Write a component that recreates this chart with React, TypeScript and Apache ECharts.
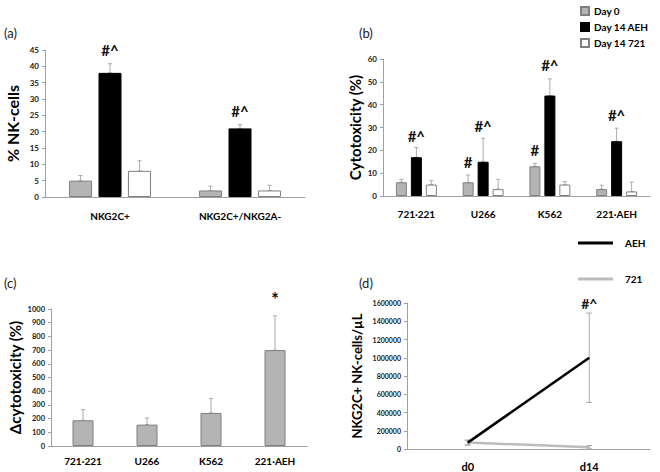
import React, { useEffect, useRef } from "react";
import * as echarts from "echarts";

// ---------- Panel (a) ----------
const aCategories = ["NKG2C+", "NKG2C+/NKG2A-"];
const aDay0 = [5, 2];
const aDay0Err = [1.6, 1.3];
const aAEH = [38, 21];
const aAEHErr = [2.8, 1.2];
const a721 = [8, 2];
const a721Err = [3.1, 1.6];
const aNotes: [number, number, number, string][] = [
  [0, 1, 45, "#^"],
  [1, 1, 26.3, "#^"],
];

// ---------- Panel (b) ----------
const bCategories = ["721·221", "U266", "K562", "221·AEH"];
const bDay0 = [6, 6, 13, 3];
const bDay0Err = [1.3, 3.2, 1.3, 1.7];
const bAEH = [17, 15, 44, 24];
const bAEHErr = [4.2, 10.3, 7.3, 5.7];
const b721 = [5, 3, 5, 2];
const b721Err = [1.7, 4.3, 1.3, 4.1];
const bNotes: [number, number, number, string][] = [
  [0, 1, 26.3, "#^"],
  [1, 1, 30.7, "#^"],
  [2, 1, 57.4, "#^"],
  [3, 1, 35.5, "#^"],
  [1, 0, 14.9, "#"],
  [2, 0, 20.1, "#"],
];

// ---------- Panel (c) ----------
const cCategories = ["721·221", "U266", "K562", "221·AEH"];
const cDelta = [188, 156, 241, 700];
const cDeltaErr = [78, 49, 105, 250];
const cNotes: [number, number, number, string][] = [[3, 1, 1075, "*"]];

// ---------- Panel (d) ----------
const dCategories = ["d0", "d14"];
const dAEH = [70000, 1000000];
const dAEHErr = [28000, 490000];
const d721 = [70000, 20000];
const d721Err = [25000, 18000];
const dNotes: [number, number, number, string][] = [[1, 1, 1600000, "#^"]];

const FONT = "Lato, 'Liberation Sans', sans-serif";
const AXIS_GRAY = "#a0a0a0";
const ERR_GRAY = "#ababab";
const DAY0_FILL = "#b4b4b4";
const BORDER_GRAY = "#7f7f7f";

function errData(vals: number[], errs: number[], slot: number, both: boolean) {
  return vals.map((v, i) => [i, both ? v - errs[i] : v, v + errs[i], slot]);
}

function errRender(step: number, cap: number) {
  return (params: any, api: any) => {
    const cat = api.value(0);
    const lo = api.value(1);
    const hi = api.value(2);
    const slot = api.value(3);
    const pHi = api.coord([cat, hi]);
    const pLo = api.coord([cat, lo]);
    const x = pHi[0] + (slot - 1) * step;
    const style = { stroke: ERR_GRAY, lineWidth: 1 };
    return {
      type: "group",
      children: [
        { type: "line", shape: { x1: x, y1: pLo[1], x2: x, y2: pHi[1] }, style },
        { type: "line", shape: { x1: x - cap, y1: pHi[1], x2: x + cap, y2: pHi[1] }, style },
        { type: "line", shape: { x1: x - cap, y1: pLo[1], x2: x + cap, y2: pLo[1] }, style },
      ],
    };
  };
}

function noteRender(notes: [number, number, number, string][], step: number, size: number) {
  return (params: any, api: any) => {
    const n = notes[params.dataIndex];
    const p = api.coord([api.value(0), api.value(2)]);
    return {
      type: "text",
      x: p[0] + (api.value(1) - 1) * step,
      y: p[1],
      style: {
        text: n[3],
        fontFamily: FONT,
        fontWeight: "bold",
        fontSize: size,
        fill: "#111",
        align: "center",
        verticalAlign: "middle",
      },
    };
  };
}

const noteData = (notes: [number, number, number, string][]) => notes.map((n) => [n[0], n[1], n[2]]);

function yAxis(grid: number, max: number, interval: number, name: string, nameGap: number, nameSize: number, labelSize: number) {
  return {
    type: "value",
    gridIndex: grid,
    min: 0,
    max,
    interval,
    name,
    nameLocation: "middle",
    nameGap,
    nameTextStyle: { fontFamily: FONT, fontWeight: "bold", fontSize: nameSize, color: "#000" },
    axisLine: { show: true, lineStyle: { color: AXIS_GRAY } },
    axisTick: { show: true, length: 3, lineStyle: { color: AXIS_GRAY } },
    splitLine: { show: false },
    axisLabel: {
      fontFamily: FONT,
      fontWeight: "bold",
      fontSize: labelSize,
      color: "#1a1a1a",
      margin: 6,
      formatter: (v: number) => String(v),
    },
  };
}

function xAxis(grid: number, data: string[], margin: number, size: number) {
  return {
    type: "category",
    gridIndex: grid,
    data,
    axisLine: { show: true, lineStyle: { color: AXIS_GRAY } },
    axisTick: { show: false },
    axisLabel: { fontFamily: FONT, fontWeight: "bold", fontSize: size, color: "#000", margin, interval: 0 },
  };
}

function bars(name: string, x: number, data: number[], fill: string, border: string, width: number, gap: string) {
  return {
    type: "bar",
    name,
    xAxisIndex: x,
    yAxisIndex: x,
    data,
    barWidth: width,
    barGap: gap,
    itemStyle: { color: fill, borderColor: border, borderWidth: 1 },
  };
}

const A_STEP = 29.6;
const B_STEP = 15;

export default function App() {
  const ref = useRef<HTMLDivElement>(null);
  useEffect(() => {
    if (!ref.current) return;
    const chart = echarts.init(ref.current, null, { renderer: "svg" });
    const option: any = {
      animation: false,
      backgroundColor: "#fff",
      textStyle: { fontFamily: FONT },
      grid: [
        { left: 45, right: 355, top: 50, bottom: 275 },
        { left: 383, right: 10, top: 59, bottom: 276 },
        { left: 51, right: 353, top: 309, bottom: 26 },
        { left: 407, right: 10, top: 303, bottom: 22 },
      ],
      legend: [
        {
          data: ["Day 0", "Day 14 AEH", "Day 14 721"],
          orient: "vertical",
          left: 575,
          top: 1,
          itemWidth: 8,
          itemHeight: 8,
          itemGap: 6,
          icon: "rect",
          textStyle: { fontFamily: FONT, fontWeight: "bold", fontSize: 10, color: "#000" },
        },
        {
          data: ["AEH", "721"],
          orient: "vertical",
          left: 578,
          top: 230,
          itemWidth: 35,
          itemHeight: 3,
          itemGap: 26,
          icon: "rect",
          padding: [8, 5, 5, 0],
          textStyle: { fontFamily: FONT, fontWeight: "bold", fontSize: 10, color: "#000", padding: [0, 0, 0, 7] },
        },
      ],
      xAxis: [
        xAxis(0, aCategories, 14, 10),
        xAxis(1, bCategories, 13, 10),
        xAxis(2, cCategories, 10, 10),
        xAxis(3, dCategories, 12, 11),
      ],
      yAxis: [
        yAxis(0, 45, 5, "% NK-cells", 25, 16, 8),
        yAxis(1, 60, 10, "Cytotoxicity (%)", 21, 15, 8),
        yAxis(2, 1000, 100, "Δcytotoxicity (%)", 29, 15, 7.5),
        yAxis(3, 1600000, 200000, "NKG2C+ NK-cells/µL", 44, 13, 7),
      ],
      graphic: [
        { type: "text", left: 4, top: 26, style: { text: "(a)", fontFamily: FONT, fontSize: 13, fill: "#222" } },
        { type: "text", left: 359, top: 26, style: { text: "(b)", fontFamily: FONT, fontSize: 13, fill: "#222" } },
        { type: "text", left: 4, top: 276, style: { text: "(c)", fontFamily: FONT, fontSize: 13, fill: "#222" } },
        { type: "text", left: 359, top: 276, style: { text: "(d)", fontFamily: FONT, fontSize: 13, fill: "#222" } },
      ],
      series: [
        // (a)
        bars("Day 0", 0, aDay0, DAY0_FILL, BORDER_GRAY, 23, "28%"),
        bars("Day 14 AEH", 0, aAEH, "#000", "#000", 23, "28%"),
        bars("Day 14 721", 0, a721, "#fff", BORDER_GRAY, 23, "28%"),
        {
          type: "custom",
          xAxisIndex: 0,
          yAxisIndex: 0,
          renderItem: errRender(A_STEP, 2),
          data: [...errData(aDay0, aDay0Err, 0, false), ...errData(aAEH, aAEHErr, 1, false), ...errData(a721, a721Err, 2, false)],
          z: 1,
          silent: true,
        },
        {
          type: "custom",
          xAxisIndex: 0,
          yAxisIndex: 0,
          renderItem: noteRender(aNotes, A_STEP, 15),
          data: noteData(aNotes),
          clip: false,
          silent: true,
        },
        // (b)
        bars("Day 0", 1, bDay0, DAY0_FILL, BORDER_GRAY, 11, "36%"),
        bars("Day 14 AEH", 1, bAEH, "#000", "#000", 11, "36%"),
        bars("Day 14 721", 1, b721, "#fff", BORDER_GRAY, 11, "36%"),
        {
          type: "custom",
          xAxisIndex: 1,
          yAxisIndex: 1,
          renderItem: errRender(B_STEP, 2),
          data: [...errData(bDay0, bDay0Err, 0, false), ...errData(bAEH, bAEHErr, 1, false), ...errData(b721, b721Err, 2, false)],
          z: 1,
          silent: true,
        },
        {
          type: "custom",
          xAxisIndex: 1,
          yAxisIndex: 1,
          renderItem: noteRender(bNotes, B_STEP, 15),
          data: noteData(bNotes),
          clip: false,
          silent: true,
        },
        // (c)
        {
          type: "bar",
          name: "Δcytotoxicity",
          xAxisIndex: 2,
          yAxisIndex: 2,
          data: cDelta,
          barWidth: 21,
          itemStyle: { color: DAY0_FILL, borderColor: BORDER_GRAY, borderWidth: 1 },
        },
        {
          type: "custom",
          xAxisIndex: 2,
          yAxisIndex: 2,
          renderItem: errRender(0, 2),
          data: errData(cDelta, cDeltaErr, 1, false),
          z: 1,
          silent: true,
        },
        {
          type: "custom",
          xAxisIndex: 2,
          yAxisIndex: 2,
          renderItem: noteRender(cNotes, 0, 19),
          data: noteData(cNotes),
          clip: false,
          silent: true,
        },
        // (d)
        {
          type: "custom",
          xAxisIndex: 3,
          yAxisIndex: 3,
          renderItem: errRender(0, 3),
          data: [...errData(dAEH, dAEHErr, 1, true), ...errData(d721, d721Err, 1, true)],
          z: 1,
          silent: true,
        },
        {
          type: "line",
          name: "AEH",
          xAxisIndex: 3,
          yAxisIndex: 3,
          data: dAEH,
          showSymbol: false,
          symbol: "none",
          lineStyle: { color: "#000", width: 2.5 },
          itemStyle: { color: "#000" },
          z: 3,
        },
        {
          type: "line",
          name: "721",
          xAxisIndex: 3,
          yAxisIndex: 3,
          data: d721,
          showSymbol: false,
          symbol: "none",
          lineStyle: { color: "#bdbdbd", width: 2.5 },
          itemStyle: { color: "#bdbdbd" },
          z: 2,
        },
        {
          type: "custom",
          xAxisIndex: 3,
          yAxisIndex: 3,
          renderItem: noteRender(dNotes, 0, 14),
          data: noteData(dNotes),
          clip: false,
          silent: true,
        },
      ],
    };
    chart.setOption(option);
    return () => chart.dispose();
  }, []);
  return (
    <div
      ref={ref}
      style={{ position: "fixed", left: 0, top: 0, width: 660, height: 472, background: "#fff" }}
    />
  );
}
